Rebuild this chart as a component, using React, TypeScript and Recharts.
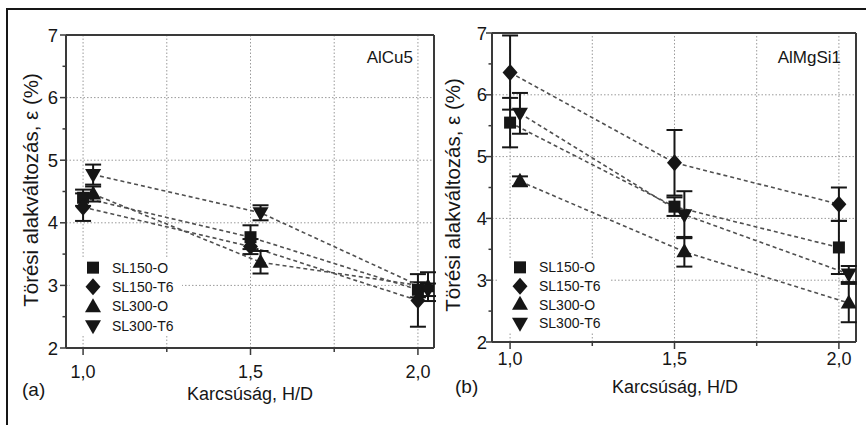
import React from "react";
import { LineChart, Line, XAxis, YAxis, ErrorBar, ReferenceLine, Legend } from "recharts";

const FONT = '"Liberation Sans", Arial, Helvetica, sans-serif';
const INK = "#161616";
const FRAME = "#3a3a3a";

const seriesNames = ["SL150-O", "SL150-T6", "SL300-O", "SL300-T6"];
const seriesShapes = ["square", "diamond", "up", "down"];

// SL300 points are nudged right so the error bars don't overlap
const xSL150 = [1.0, 1.5, 2.0];
const xSL300 = [1.03, 1.53, 2.03];

const xTicks = [1.0, 1.25, 1.5, 1.75, 2.0];
const yTicks = [2, 2.5, 3, 3.5, 4, 4.5, 5, 5.5, 6, 6.5, 7];
const gridX = [1.0, 1.25, 1.5, 1.75, 2.0];
const gridY = [3, 4, 5, 6];

// (a) AlCu5
const cuSL150O = [4.4, 3.77, 2.93];
const cuSL150OErr = [0.13, 0.19, 0.12];
const cuSL150T6 = [4.25, 3.62, 2.76];
const cuSL150T6Err = [0.22, 0.12, 0.42];
const cuSL300O = [4.46, 3.37, 2.98];
const cuSL300OErr = [0.12, 0.18, 0.23];
const cuSL300T6 = [4.77, 4.16, 2.93];
const cuSL300T6Err = [0.16, 0.12, 0.1];

// (b) AlMgSi1
const mgSL150O = [5.55, 4.19, 3.53];
const mgSL150OErr = [0.4, 0.15, 0.43];
const mgSL150T6 = [6.36, 4.9, 4.23];
const mgSL150T6Err = [0.6, 0.53, 0.27];
const mgSL300O = [4.6, 3.46, 2.63];
const mgSL300OErr = [0.08, 0.24, 0.31];
const mgSL300T6 = [5.7, 4.06, 3.1];
const mgSL300T6Err = [0.33, 0.38, 0.13];

const build = (xs: number[], ys: number[], errs: number[]) =>
  xs.map((x, i) => ({ x, y: ys[i], err: errs[i] }));

const cuData = [
  build(xSL150, cuSL150O, cuSL150OErr),
  build(xSL150, cuSL150T6, cuSL150T6Err),
  build(xSL300, cuSL300O, cuSL300OErr),
  build(xSL300, cuSL300T6, cuSL300T6Err),
];
const mgData = [
  build(xSL150, mgSL150O, mgSL150OErr),
  build(xSL150, mgSL150T6, mgSL150T6Err),
  build(xSL300, mgSL300O, mgSL300OErr),
  build(xSL300, mgSL300T6, mgSL300T6Err),
];

function Marker({ shape, cx, cy }: { shape: string; cx: number; cy: number }) {
  if (shape === "square") return <rect x={cx - 6} y={cy - 6} width={12} height={12} fill={INK} />;
  if (shape === "diamond")
    return <polygon points={`${cx},${cy - 8.5} ${cx + 7.5},${cy} ${cx},${cy + 8.5} ${cx - 7.5},${cy}`} fill={INK} />;
  if (shape === "up")
    return <polygon points={`${cx},${cy - 8.5} ${cx + 8},${cy + 5.5} ${cx - 8},${cy + 5.5}`} fill={INK} />;
  return <polygon points={`${cx - 8},${cy - 5.5} ${cx + 8},${cy - 5.5} ${cx},${cy + 8.5}`} fill={INK} />;
}

const fmt = (v: number) => v.toFixed(1).replace(".", ",");

const makeXTick = (labelDy: number) => (props: any) => {
  const { x, y, payload } = props;
  const major = Math.abs((payload.value * 2) % 1) < 1e-6;
  return (
    <g>
      <line x1={x} x2={x} y1={y} y2={y + (major ? 7 : 4)} stroke={FRAME} strokeWidth={1.5} />
      {major && (
        <text x={x} y={y + labelDy} textAnchor="middle" fontSize={18} fontFamily={FONT} fill={INK}>
          {fmt(payload.value)}
        </text>
      )}
    </g>
  );
};

const makeYTick = (gap: number) => (props: any) => {
  const { x, y, payload } = props;
  const major = Number.isInteger(payload.value);
  return (
    <g>
      <line x1={x - (major ? 6 : 3.5)} x2={x} y1={y} y2={y} stroke={FRAME} strokeWidth={1.5} />
      {major && (
        <text x={x - gap} y={y + 6.5} textAnchor="end" fontSize={18.5} fontFamily={FONT} fill={INK}>
          {payload.value}
        </text>
      )}
    </g>
  );
};

function LegendBox({ rowH }: { rowH: number }) {
  return (
    <div style={{ background: "#fff", fontFamily: FONT, fontSize: 14, color: INK }}>
      {seriesNames.map((name, i) => (
        <div key={name} style={{ display: "flex", alignItems: "center", height: rowH }}>
          <svg width={42} height={rowH} style={{ display: "block" }}>
            <Marker shape={seriesShapes[i]} cx={23} cy={rowH / 2} />
          </svg>
          <span>{name}</span>
        </div>
      ))}
    </div>
  );
}

interface PanelProps {
  data: { x: number; y: number; err: number }[][];
  xDomain: number[];
  width: number;
  margin: { top: number; right: number; left: number; bottom: number };
  xLabelDy: number;
  yLabelGap: number;
  legendPos: { left: number; top: number; rowH: number };
  alloy: string;
  alloyX: number;
  tag: string;
  tagX: number;
  tagY: number;
  xTitleX: number;
  xTitleY: number;
  yTitleX: number;
  yTitleY: number;
}

function Panel(p: PanelProps) {
  const H = 425;
  return (
    <div style={{ position: "relative", width: p.width, height: H }}>
      <LineChart width={p.width} height={H} margin={p.margin}>
        <XAxis
          type="number"
          dataKey="x"
          domain={p.xDomain}
          ticks={xTicks}
          interval={0}
          allowDataOverflow
          height={30}
          tickSize={0}
          tickMargin={0}
          tickLine={false}
          axisLine={{ stroke: FRAME, strokeWidth: 2 }}
          tick={makeXTick(p.xLabelDy)}
        />
        <YAxis
          type="number"
          domain={[2, 7]}
          ticks={yTicks}
          interval={0}
          allowDataOverflow
          width={30}
          tickSize={0}
          tickMargin={0}
          tickLine={false}
          axisLine={{ stroke: FRAME, strokeWidth: 2 }}
          tick={makeYTick(p.yLabelGap)}
        />
        {gridX.map((v) => (
          <ReferenceLine key={"gx" + v} x={v} stroke="#9a9a9a" strokeWidth={1} strokeDasharray="1.5 2" />
        ))}
        {gridY.map((v) => (
          <ReferenceLine key={"gy" + v} y={v} stroke="#9a9a9a" strokeWidth={1} strokeDasharray="1.5 2" />
        ))}
        <ReferenceLine y={7} stroke={FRAME} strokeWidth={2} />
        <ReferenceLine x={p.xDomain[1]} stroke={FRAME} strokeWidth={2} />
        {p.data.map((pts, si) => (
          <Line
            key={seriesNames[si]}
            data={pts}
            dataKey="y"
            name={seriesNames[si]}
            type="linear"
            stroke="#505050"
            strokeWidth={1.6}
            strokeDasharray="4 3"
            activeDot={false}
            legendType="none"
            isAnimationActive={false}
            dot={(d: any) => <Marker key={`${si}-${d.index}`} shape={seriesShapes[si]} cx={d.cx} cy={d.cy} />}
          >
            <ErrorBar dataKey="err" direction="y" width={8} stroke={INK} strokeWidth={2} />
          </Line>
        ))}
        <Legend
          layout="vertical"
          align="center"
          verticalAlign="middle"
          wrapperStyle={{ left: p.legendPos.left, top: p.legendPos.top, width: 112 }}
          content={() => <LegendBox rowH={p.legendPos.rowH} />}
        />
      </LineChart>
      <svg
        width={p.width}
        height={H}
        style={{ position: "absolute", left: 0, top: 0, pointerEvents: "none" }}
        fontFamily={FONT}
        fill={INK}
      >
        <text x={p.alloyX} y={63} textAnchor="end" fontSize={17}>
          {p.alloy}
        </text>
        <text x={p.tagX} y={p.tagY} fontSize={19}>
          {p.tag}
        </text>
        <text x={p.xTitleX} y={p.xTitleY} textAnchor="middle" fontSize={18}>
          Karcsúság, H/D
        </text>
        <text
          x={p.yTitleX}
          y={p.yTitleY}
          textAnchor="middle"
          fontSize={20.5}
          transform={`rotate(-90 ${p.yTitleX} ${p.yTitleY})`}
        >
          Törési alakváltozás, ε (%)
        </text>
      </svg>
    </div>
  );
}

export default function App() {
  return (
    <div style={{ position: "absolute", left: 0, top: 0, width: 866, height: 425, background: "#fff" }}>
      <div
        style={{
          position: "absolute",
          left: 6,
          top: 8,
          width: 860,
          height: 417,
          borderLeft: `2px solid ${INK}`,
          borderTop: `2px solid ${INK}`,
        }}
      />
      <div style={{ position: "absolute", left: 0, top: 0 }}>
        <Panel
          data={cuData}
          xDomain={[0.949, 2.048]}
          width={440}
          margin={{ top: 35, right: 6, left: 36, bottom: 47 }}
          xLabelDy={30}
          yLabelGap={8}
          legendPos={{ left: 70, top: 258, rowH: 19.3 }}
          alloy="AlCu5"
          alloyX={413}
          tag="(a)"
          tagX={22}
          tagY={396}
          xTitleX={250}
          xTitleY={400}
          yTitleX={38}
          yTitleY={190}
        />
      </div>
      <div style={{ position: "absolute", left: 440, top: 0 }}>
        <Panel
          data={mgData}
          xDomain={[0.945, 2.052]}
          width={426}
          margin={{ top: 33, right: 10, left: 22, bottom: 53 }}
          xLabelDy={23}
          yLabelGap={5}
          legendPos={{ left: 57, top: 258, rowH: 18.7 }}
          alloy="AlMgSi1"
          alloyX={401}
          tag="(b)"
          tagX={15}
          tagY={393}
          xTitleX={235}
          xTitleY={393}
          yTitleX={20}
          yTitleY={195}
        />
      </div>
    </div>
  );
}
